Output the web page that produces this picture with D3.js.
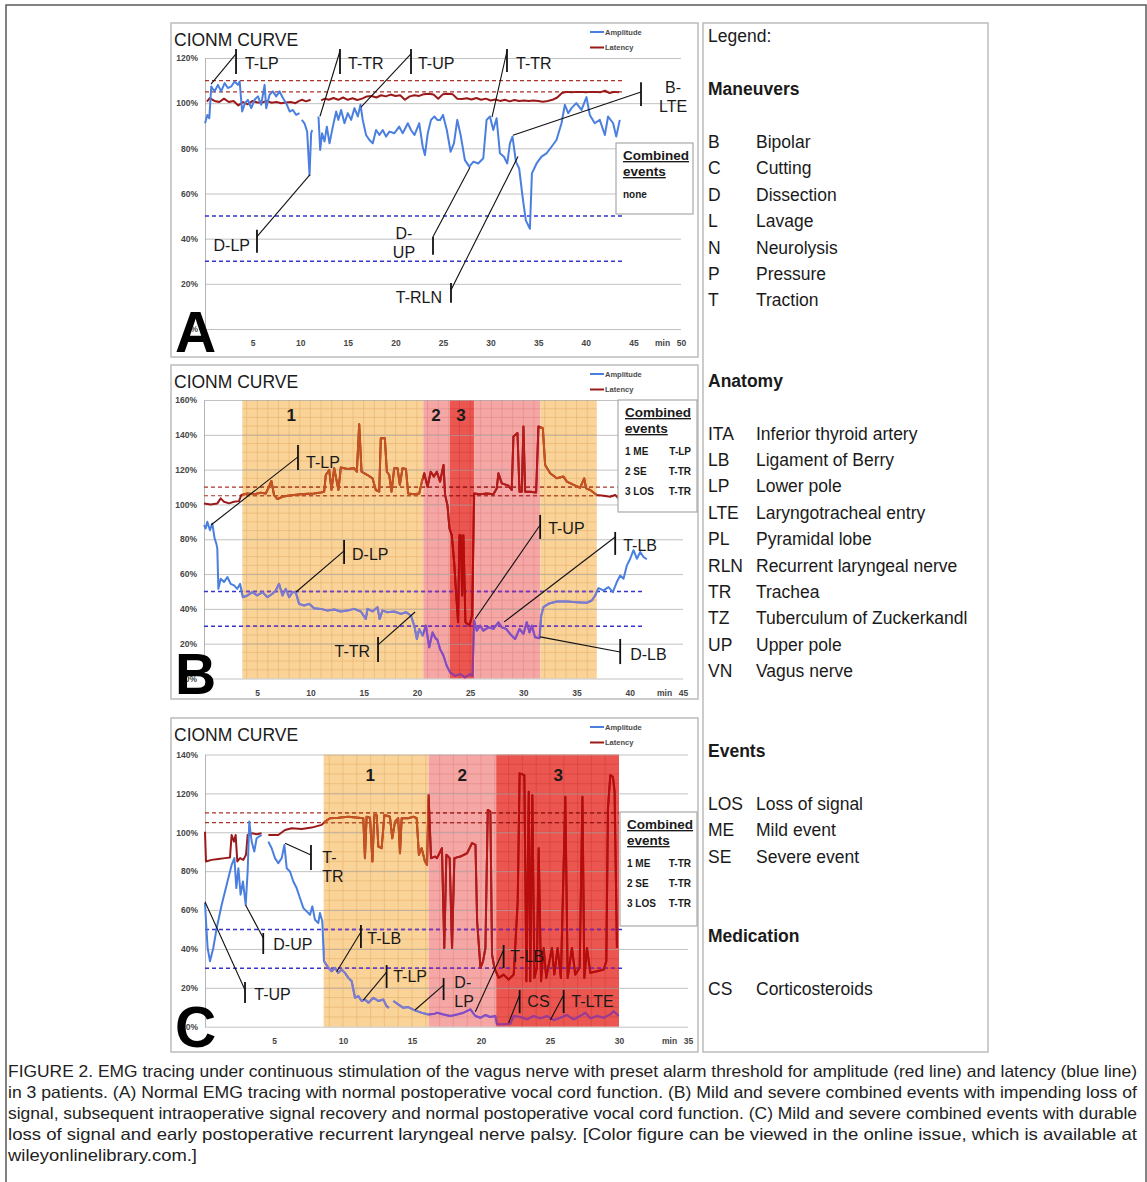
<!DOCTYPE html>
<html>
<head>
<meta charset="utf-8">
<script src="https://cdn.jsdelivr.net/npm/d3@7"></script>
<style>
  body { margin: 0; background: #fff; }
  text { font-family: "Liberation Sans", Arial, sans-serif; }
</style>
</head>
<body>
<script>
// ---- data: [minutes, percent], null = gap in the recording ----
const ampA = [[0,91.1],[0.25,94.8],[0.45,93.3],[0.66,107.4],[1.0,105.2],[1.36,108.1],[1.7,105.2],[2.06,108.9],[2.4,106.7],[2.76,107.4],[3.1,109.6],[3.46,108.1],[3.64,109.6],[3.9,96.3],[4.2,100],[4.5,101.5],[4.86,97.8],[5.2,101.5],[5.56,103],[5.9,99.3],[6.26,108.1],[6.43,97.8],[6.78,103.7],[7.13,105.2],[7.48,103],[7.83,105.2],[8.2,102.2],[8.53,100],[8.9,96.3],[9.23,97],[9.58,94.8],[9.93,95.6],[10.05,null],[10.17,92.6],[10.45,91.1],[10.73,87.4],[10.98,68.1],[11.15,86.7],[11.26,88.1],[11.6,null],[11.92,94.1],[12.1,79.3],[12.3,86.7],[12.55,83],[12.8,89.6],[13.08,82.2],[13.43,89.6],[13.78,96.3],[14.0,92.6],[14.3,97],[14.65,91.1],[15.0,95.6],[15.35,92.6],[15.7,97.8],[16.05,94.1],[16.33,99.3],[16.57,92.6],[16.92,85.9],[17.27,83.7],[17.62,82.2],[17.97,88.1],[18.32,85.9],[18.67,88.1],[19.02,85.2],[19.37,87.4],[19.9,86.7],[20.4,89.6],[20.77,86.7],[21.3,91.1],[21.64,88.1],[22.0,85.9],[22.5,91.1],[22.87,80.7],[23.1,77],[23.4,86.7],[23.74,92.6],[24.1,94.1],[24.4,92.6],[24.7,92.6],[25.0,94.8],[25.4,88.1],[25.8,78.5],[26.15,82.2],[26.5,92.6],[26.85,85.9],[27.3,74.8],[27.76,71.9],[28.2,74.1],[28.7,73.3],[29.23,75.6],[29.58,92.6],[29.93,94.1],[30.28,88.1],[30.63,93.3],[30.98,77.8],[31.4,76.3],[31.75,73.3],[32.03,82.2],[32.3,85.2],[32.66,74.1],[33.0,71.1],[33.36,58.5],[33.7,48.1],[34.13,44.4],[34.34,68.9],[34.83,73.3],[35.35,76.3],[35.87,77.8],[36.4,80.7],[36.92,83.7],[37.45,91.1],[37.8,99.3],[38.15,95.6],[38.5,97.8],[39.0,100],[39.55,97],[40.07,102.7],[40.42,94.8],[40.94,91.1],[41.47,92.6],[42.0,85.9],[42.34,94.1],[42.87,91.1],[43.2,85.2],[43.57,92.6]];
const latA = [[0.2,100.7],[0.5,102.2],[1.0,101],[1.5,100.5],[2,102],[2.5,100.5],[3,101],[3.5,99],[4,100.5],[4.5,99.5],[5,101],[5.5,100.3],[6,100.3],[6.5,101],[7,100.2],[7.5,100.5],[8,100],[8.5,100.3],[9,100.5],[9.5,100],[9.9,101],[10.2,101.5],[10.6,100.8],[11.1,101.5],[11.6,null],[12.2,101.2],[12.6,102],[13,101.5],[13.5,102.3],[14,101.5],[14.5,102.5],[15,101.5],[15.5,102.2],[16,101.4],[16.5,102],[17,103],[17.5,103.2],[18,102.5],[18.5,103.5],[19,103],[19.5,103.8],[20,103.2],[20.5,103.5],[21,101.5],[21.5,103],[22,103.5],[22.5,103.2],[23,104],[23.5,104.2],[24,103.8],[24.5,102],[25,104],[25.5,104.2],[26,104],[26.5,102],[27,101.8],[27.5,102.2],[28,101.6],[28.5,102.3],[29,101.5],[29.5,102],[30,101.2],[30.5,101.6],[31,101],[31.5,101.5],[32,100.8],[32.5,101.4],[33,101],[33.5,101.2],[34,101],[34.5,101.2],[35,101],[35.5,100.6],[36,101],[36.5,101.5],[37,102.5],[37.5,104.5],[38,105],[38.5,104.8],[39,105],[39.5,105],[40,104.8],[40.5,105],[41,105],[41.5,104.8],[42,105.5],[42.5,104.5],[43,105],[43.5,104.8]];

const ampB = [[0,88.1],[0.16,86.2],[0.31,90],[0.56,85.2],[0.78,89],[1.0,80.4],[1.16,77.5],[1.25,74.6],[1.35,51.5],[1.57,57.3],[1.88,55.4],[2.2,58.3],[2.5,54.4],[2.82,53.5],[3.13,51.5],[3.39,54.4],[3.64,46.7],[4.08,47.7],[4.55,49.6],[5.0,47.7],[5.5,49.6],[5.96,46.7],[6.43,48.7],[6.74,50.6],[7.05,54.4],[7.37,47.7],[7.68,51.5],[8.0,46.7],[8.3,49.6],[8.62,49.6],[8.93,42.9],[9.4,41.9],[9.87,42.9],[10.34,40.4],[10.97,40],[11.6,39],[12.23,39.6],[12.85,38.5],[13.48,39],[14.1,40],[14.73,38.5],[15.2,34.2],[15.36,40],[15.83,38.5],[16.3,41],[16.5,34.2],[16.77,39],[17.24,38.1],[17.87,38.5],[18.5,37.1],[18.97,38.1],[19.44,36.2],[19.75,30.4],[20.0,22.7],[20.22,28.5],[20.53,24.6],[20.85,30.4],[21.16,17.9],[21.47,26.5],[21.79,22.7],[21.9,22.7],[22.18,16.9],[22.5,13.1],[22.8,7.3],[23.12,3.5],[23.59,1.5],[24.06,2.5],[24.53,0.6],[25.0,2.5],[25.22,1.5],[25.38,33.3],[25.63,27.5],[25.94,30.4],[26.25,27.5],[26.72,29.4],[27.19,28.5],[27.66,32.3],[27.98,29.4],[28.38,28.5],[28.76,25.6],[29.23,22.7],[29.64,28.5],[30.01,25.6],[30.32,32.3],[30.58,26.5],[30.8,30.4],[31.1,23.7],[31.52,23.1],[31.68,36.2],[31.89,41],[32.36,42.9],[33.14,44.2],[34.09,44.2],[35.02,43.8],[35.96,43.5],[36.43,44.8],[36.75,47.7],[37.06,51.9],[37.53,50.6],[38.0,52.5],[38.41,49.6],[38.78,55.4],[39.1,59.2],[39.41,57.3],[39.73,65],[40.04,68.8],[40.35,73.7],[40.67,68.8],[40.98,72.7],[41.29,69.8],[41.6,68.5]];
const latB = [[0,100.6],[0.63,100],[1.25,100.6],[1.57,103.5],[1.88,101.5],[2.35,100.6],[2.82,101.5],[3.29,101.9],[3.5,105.4],[4.08,106.3],[4.7,105.8],[5.33,106.7],[5.8,106.3],[6.11,110.2],[6.33,113.5],[6.58,105.4],[6.9,103.1],[7.37,104.4],[7.84,105],[8.46,105.4],[9.09,105.8],[9.72,106.2],[10.34,106.3],[10.97,106.9],[11.29,107.3],[11.44,116.9],[11.76,119.8],[11.98,108.3],[12.23,120.8],[12.63,108.3],[12.85,121.2],[13.48,120.4],[14.1,120.8],[14.36,118.8],[14.58,146],[14.8,118.8],[15.36,116.9],[15.83,115],[16.14,108.3],[16.46,107.3],[16.61,138],[16.99,138],[17.18,118.8],[17.4,116.9],[17.62,107.3],[17.87,120.8],[18.18,120.8],[18.4,111.2],[18.65,120.8],[18.97,120.4],[19.18,106.3],[19.75,105.8],[20.22,106.3],[20.47,113.1],[20.69,117.9],[21.0,110.2],[21.3,118.8],[21.6,116],[21.87,118.8],[22.18,113.1],[22.5,122.7],[22.65,105.4],[22.87,99.6],[23.06,86.2],[23.28,82.3],[23.5,66.9],[23.68,49.6],[23.87,32.3],[24.0,82.3],[24.12,82.3],[24.25,47.7],[24.37,82.3],[24.56,32.3],[24.94,30.4],[25.19,36.2],[25.38,106.3],[25.94,105.8],[26.56,106.3],[27.19,105.8],[27.5,109.2],[27.66,117.9],[27.98,112.1],[28.6,110.8],[28.91,108.3],[29.07,139],[29.45,141],[29.64,107.3],[29.85,107.3],[30.01,144.8],[30.17,107.3],[30.64,107.3],[31.2,106.9],[31.42,144.8],[31.83,143.8],[32.05,122.7],[32.52,117.9],[33.14,115],[33.77,116],[34.09,113.1],[34.72,111.2],[35.34,109.6],[35.72,115],[35.9,109.2],[36.28,108.3],[36.9,105.4],[37.53,105],[38.16,104.4],[38.63,105.4],[38.94,103.5]];

const ampC = [[0,63.6],[0.1,50.8],[0.19,40.5],[0.36,33.7],[0.6,40.5],[0.85,50.8],[1.21,62.7],[1.57,73],[1.93,83.2],[2.13,86.7],[2.27,71.3],[2.42,81.5],[2.58,67.9],[2.75,74.7],[2.95,62.7],[3.09,79.8],[3.21,105.5],[3.38,95.2],[3.57,90.1],[3.74,96.9],[3.91,97.8],[4.1,98.6],[4.3,null],[4.59,95.2],[4.83,91.8],[5.07,86.7],[5.31,84.1],[5.56,86.7],[5.75,93.5],[5.92,81.5],[6.16,79.8],[6.4,74.7],[6.64,71.3],[6.88,66.2],[7.13,61],[7.37,59.3],[7.61,57.6],[7.78,61.9],[7.97,55],[8.21,53.3],[8.33,58.5],[8.5,54.2],[8.62,33.7],[8.94,30.3],[9.18,28.5],[9.42,30.3],[9.66,27.7],[9.9,29.4],[10.14,27.7],[10.39,25.1],[10.63,23.4],[10.87,14.9],[11.11,15.7],[11.35,13.2],[11.59,14],[11.84,12.3],[12.2,14.9],[12.56,13.2],[12.92,14],[13.16,10.6],[13.33,9.7],[13.5,null],[13.65,13.2],[14.0,11.5],[14.37,9.7],[14.73,10.1],[15.2,8.4],[15.7,7.2],[16.18,6.3],[16.67,6.7],[16.81,7.2],[17.29,6.3],[17.78,5.5],[18.26,6.3],[18.74,7.2],[19.23,8.9],[19.59,5.5],[19.95,4.6],[20.31,6],[20.67,5],[21.04,5.5],[21.16,1.2],[21.64,1.2],[22.13,1.5],[22.37,5.5],[22.85,5],[23.33,3.8],[23.82,5.5],[24.3,4.3],[24.79,5.5],[25.27,3.4],[25.75,4.6],[26.23,6],[26.71,3.8],[27.2,5.5],[27.56,7.2],[27.92,4.3],[28.41,5.5],[28.89,4.6],[29.37,6.3],[29.61,8],[29.98,5.5]];
const latC = [[0,100.3],[0.07,85],[0.48,85.8],[0.97,86.3],[1.45,86.7],[1.81,87],[1.93,98.6],[2.1,95.2],[2.22,98.6],[2.34,85],[2.54,86.7],[2.78,85.8],[2.97,88.4],[3.09,98.6],[3.38,99.5],[3.74,99],[4.1,99.5],[4.3,null],[4.59,98.6],[5.31,98.6],[5.8,101.2],[6.28,102.1],[7.0,101.7],[7.73,102.4],[8.45,103.8],[8.7,105.5],[9.06,107.2],[9.66,107.5],[10.39,108],[11.11,107.5],[11.47,107.2],[11.59,86.7],[11.71,108],[11.96,107.5],[12.13,85],[12.27,108.9],[12.44,108.9],[12.56,92.6],[12.8,91.8],[13.0,108.9],[13.4,108],[13.57,96.9],[13.77,105.5],[14.0,107.2],[14.13,89.2],[14.25,107.2],[14.73,107.2],[15.1,108],[15.34,107.2],[15.5,88.4],[15.7,91.8],[15.94,85],[16.09,83.2],[16.2,119.1],[16.38,86.7],[16.67,87.5],[16.81,86.7],[17.17,91.8],[17.34,40.5],[17.49,88.4],[17.73,86.7],[17.9,40.5],[18.07,86.7],[18.5,87.5],[18.99,89.2],[19.35,94.4],[19.6,93.5],[19.72,54.2],[19.96,30.3],[20.15,33.7],[20.32,40.5],[20.49,111.5],[20.68,110.6],[20.8,37.1],[20.97,30.3],[21.28,25.1],[21.64,26.8],[22.0,24.3],[22.37,26.8],[22.66,64.4],[22.8,130.3],[23.14,129.4],[23.29,23.4],[23.46,120.9],[23.57,23.4],[23.72,119.1],[23.87,25.1],[24.05,30.3],[24.18,91.8],[24.35,23.4],[24.54,40.5],[24.73,25.1],[25.14,40.5],[25.31,26.8],[25.55,40.5],[25.79,25.1],[26.11,118.3],[26.28,25.1],[26.59,40.5],[26.83,26.8],[27.15,30.3],[27.35,118.3],[27.49,25.1],[27.68,40.5],[27.92,27.7],[28.41,28.5],[28.89,29.4],[29.08,33.7],[29.2,112.3],[29.37,129.4],[29.56,128.5],[29.68,120.9],[29.85,40.5]];

// alarm thresholds (%): latency upper, amplitude lower
const latThresholds = [110, 105];
const ampThresholds = [50, 30];

// shaded event zones [start min, end min, kind] and their labels [label, min, %]
const zonesB = [[3.6, 20.6, "o"], [20.6, 23.1, "p"], [23.1, 25.4, "r"], [25.4, 31.6, "p"], [31.6, 36.9, "o"]];
const zoneLabelsB = [["1", 8.2, 151.4], ["2", 21.8, 151.4], ["3", 24.15, 151.4]];
const zonesC = [[8.6, 16.2, "o"], [16.2, 21.1, "p"], [21.1, 30.0, "r"]];
const zoneLabelsC = [["1", 11.98, 129.4], ["2", 18.64, 129.4], ["3", 25.6, 129.4]];

// annotations: text ("|" = new line), tick x, tick span, curve point, join y, label x/y, anchor
const notesA = [
  { t: "T-LP", tx: 3.26, t0: 124, t1: 112.9, px: 0.63, py: 108.4, jy: 121.8, lx: 4.2, ly: 117.8, a: "start" },
  { t: "T-TR", tx: 14.18, t0: 124, t1: 112.9, px: 12.08, py: 94.2, jy: 123.1, lx: 15.02, ly: 117.8, a: "start" },
  { t: "T-UP", tx: 21.64, t0: 124, t1: 112.9, px: 16.39, py: 98.2, jy: 121.8, lx: 22.37, ly: 117.8, a: "start" },
  { t: "T-TR", tx: 31.72, t0: 124, t1: 113.8, px: 30.15, py: 93.8, jy: 123.1, lx: 32.67, ly: 117.8, a: "start" },
  { t: "B-|LTE", tx: 45.8, t0: 109.3, t1: 98.7, px: 32.35, py: 85.8, jy: 104.9, lx: 49.16, ly: 107.1, a: "middle" },
  { t: "D-LP", tx: 5.46, t0: 44, t1: 33.8, px: 11.03, py: 68.4, jy: 40.9, lx: 4.73, ly: 36.9, a: "end" },
  { t: "D-|UP", tx: 23.95, t0: 40.9, t1: 32.9, px: 27.84, py: 71.6, jy: 40.9, lx: 20.9, ly: 42.2, a: "middle" },
  { t: "T-RLN", tx: 25.84, t0: 20.4, t1: 11.6, px: 32.88, py: 76.4, jy: 17.3, lx: 24.9, ly: 14.2, a: "end" }
];
const notesB = [
  { t: "T-LP", tx: 8.83, t0: 134.2, t1: 119.8, px: 0.66, py: 88.2, jy: 127.3, lx: 9.59, ly: 124.4, a: "start" },
  { t: "D-LP", tx: 13.16, t0: 79.6, t1: 65.8, px: 8.65, py: 49.7, jy: 73.3, lx: 13.91, ly: 71.6, a: "start" },
  { t: "T-TR", tx: 16.35, t0: 23.9, t1: 9.5, px: 19.83, py: 38.2, jy: 19.3, lx: 15.6, ly: 15.8, a: "end" },
  { t: "T-UP", tx: 31.58, t0: 94, t1: 80.2, px: 25.47, py: 34.2, jy: 88.2, lx: 32.33, ly: 86.5, a: "start" },
  { t: "T-LB", tx: 38.63, t0: 84.2, t1: 71, px: 28.2, py: 32.5, jy: 81.3, lx: 39.38, ly: 76.7, a: "start" },
  { t: "D-LB", tx: 39.1, t0: 22.7, t1: 8.3, px: 31.58, py: 23.9, jy: 15.2, lx: 40.04, ly: 14.1, a: "start" }
];
const notesC = [
  { t: "T-|TR", tx: 7.68, t0: 93.4, t1: 80.6, px: 5.8, py: 94.3, jy: 88.3, lx: 8.5, ly: 87.3, a: "start" },
  { t: "D-UP", tx: 4.22, t0: 48.2, t1: 37.4, px: 2.94, py: 62.6, jy: 45.6, lx: 4.95, ly: 42.5, a: "start" },
  { t: "T-UP", tx: 2.9, t0: 23, t1: 12.2, px: 0, py: 64.3, jy: 18.9, lx: 3.57, ly: 16.8, a: "start" },
  { t: "T-LB", tx: 11.3, t0: 52.3, t1: 40.5, px: 9.54, py: 28.3, jy: 48.7, lx: 11.76, ly: 45.6, a: "start" },
  { t: "T-LP", tx: 13.16, t0: 31.7, t1: 19.9, px: 11.47, py: 13.7, jy: 28.1, lx: 13.64, ly: 26.1, a: "start" },
  { t: "D-|LP", tx: 17.29, t0: 25, t1: 13.7, px: 15.22, py: 8.6, jy: 21.4, lx: 18.07, ly: 23, a: "start" },
  { t: "T-LB", tx: 21.64, t0: 42, t1: 30.2, px: 19.59, py: 7.7, jy: 39.4, lx: 22.12, ly: 36.3, a: "start" },
  { t: "CS", tx: 22.8, t0: 18.9, t1: 7, px: 22.0, py: 1.9, jy: 16.3, lx: 23.36, ly: 13.2, a: "start" },
  { t: "T-LTE", tx: 25.99, t0: 18.9, t1: 7, px: 25.02, py: 3.4, jy: 16.3, lx: 26.54, ly: 13.2, a: "start" }
];

// combined events tables
const eventsA = [["none", ""]];
const eventsB = [["1 ME", "T-LP"], ["2 SE", "T-TR"], ["3 LOS", "T-TR"]];
const eventsC = [["1 ME", "T-TR"], ["2 SE", "T-TR"], ["3 LOS", "T-TR"]];

// right-hand legend
const maneuvers = [["B", "Bipolar"], ["C", "Cutting"], ["D", "Dissection"], ["L", "Lavage"], ["N", "Neurolysis"], ["P", "Pressure"], ["T", "Traction"]];
const anatomy = [["ITA", "Inferior thyroid artery"], ["LB", "Ligament of Berry"], ["LP", "Lower pole"], ["LTE", "Laryngotracheal entry"], ["PL", "Pyramidal lobe"], ["RLN", "Recurrent laryngeal nerve"], ["TR", "Trachea"], ["TZ", "Tuberculum of Zuckerkandl"], ["UP", "Upper pole"], ["VN", "Vagus nerve"]];
const eventTerms = [["LOS", "Loss of signal"], ["ME", "Mild event"], ["SE", "Severe event"]];
const medication = [["CS", "Corticosteroids"]];

const captionLines = [
  "FIGURE  2.  EMG tracing under continuous stimulation of the vagus nerve with preset alarm threshold for amplitude (red line) and latency (blue line)",
  "in 3 patients. (A) Normal EMG tracing with normal postoperative vocal cord function. (B) Mild and severe combined events with impending loss of",
  "signal, subsequent intraoperative signal recovery and normal postoperative vocal cord function. (C) Mild and severe combined events with durable",
  "loss of signal and early postoperative recurrent laryngeal nerve palsy. [Color figure can be viewed in the online issue, which is available at",
  "wileyonlinelibrary.com.]"
];

// ---- drawing ----
const W = 1147, H = 1182;
const baseCols = { amp: "#4a7fe0", lat: "#9a1a1a", ampDash: "#3535cc", latDash: "#a8352b" };
// zone fill + how the curves look inside each zone
const zoneStyle = {
  o: { fill: "#fad398", grid: "#d9984a", amp: "#8179cc", lat: "#c4541f", ampDash: "#6f44c2", latDash: "#b0562e" },
  p: { fill: "#f4a7a5", grid: "#d66f6c", amp: "#8b49c2", lat: "#b51a1a", ampDash: "#7c32b4", latDash: "#a82c2c" },
  r: { fill: "#ec5650", grid: "#c22c28", amp: "#a8338a", lat: "#b80c0c", ampDash: "#8c2290", latDash: "#9a1616" }
};

const svg = d3.select("body").append("svg").attr("width", W).attr("height", H);
const defs = svg.append("defs");
svg.append("rect").attr("width", W).attr("height", H).attr("fill", "#fff");
svg.append("rect").attr("x", 6).attr("y", 5).attr("width", 1140).attr("height", 1200)
  .attr("fill", "none").attr("stroke", "#5a5a5a").attr("stroke-width", 1.5);

function drawPanel(p) {
  const g = svg.append("g");
  const [bx0, by0, bx1, by1] = p.box;
  g.append("rect").attr("x", bx0).attr("y", by0).attr("width", bx1 - bx0).attr("height", by1 - by0)
    .attr("fill", "#fff").attr("stroke", "#bcbcbc").attr("stroke-width", 1.5);

  const x = d3.scaleLinear().domain([0, p.xMax]).range(p.xr);
  const y = d3.scaleLinear().domain([0, p.yMax]).range(p.yr);

  // event zones (fill + fine grid)
  p.zones.forEach(z => {
    const st = zoneStyle[z[2]];
    const zx0 = x(z[0]), zx1 = x(z[1]), zy0 = y(p.yMax), zy1 = y(0);
    g.append("rect").attr("x", zx0).attr("y", zy0).attr("width", zx1 - zx0).attr("height", zy1 - zy0)
      .attr("fill", st.fill);
    const zg = g.append("g").attr("stroke", st.grid).attr("stroke-width", 0.6).attr("opacity", 0.55);
    d3.range(Math.ceil(z[0]), z[1], 1).forEach(m => zg.append("line")
      .attr("x1", x(m)).attr("x2", x(m)).attr("y1", zy0).attr("y2", zy1));
    d3.range(5, p.yMax, 5).forEach(v => zg.append("line")
      .attr("x1", zx0).attr("x2", zx1).attr("y1", y(v)).attr("y2", y(v)));
  });

  // gridlines + y labels
  const ya = g.append("g").attr("transform", `translate(${p.xr[0]},0)`)
    .call(d3.axisLeft(y).tickValues(d3.range(0, p.yMax + 1, 20)).tickFormat(d => d + "%")
      .tickSizeInner(-(p.xr[1] - p.xr[0])).tickSizeOuter(0).tickPadding(7));
  ya.select(".domain").attr("stroke", "#b5b5b5");
  ya.selectAll(".tick line").attr("stroke", "#a8a8a8").attr("stroke-opacity", 0.7);
  ya.selectAll(".tick text").attr("font-family", "Liberation Sans, Arial, sans-serif")
    .attr("font-size", 8.5).attr("font-weight", "bold").attr("fill", "#454545");

  const xa = g.append("g").attr("transform", `translate(0,${p.yr[0]})`)
    .call(d3.axisBottom(x).tickValues(d3.range(5, p.xMax + 1, 5)).tickSize(0).tickPadding(11));
  xa.select(".domain").remove();
  xa.selectAll(".tick text").attr("font-family", "Liberation Sans, Arial, sans-serif")
    .attr("font-size", 8.5).attr("font-weight", "bold").attr("fill", "#454545");
  g.append("text").attr("x", x(p.xMax) - 26).attr("y", p.yr[0] + 17)
    .attr("font-size", 8.5).attr("font-weight", "bold").attr("fill", "#454545").text("min");

  // thresholds and curves; redrawn in zone tints inside each zone
  const line = d3.line().defined(d => d[1] != null).x(d => x(d[0])).y(d => y(d[1]));
  function layer(c, col) {
    latThresholds.forEach(v => c.append("line")
      .attr("x1", x(0)).attr("x2", x(p.latEnd)).attr("y1", y(v)).attr("y2", y(v))
      .attr("stroke", col.latDash).attr("stroke-width", 1.2).attr("stroke-dasharray", "4,3"));
    ampThresholds.forEach(v => c.append("line")
      .attr("x1", x(0)).attr("x2", x(p.ampEnd)).attr("y1", y(v)).attr("y2", y(v))
      .attr("stroke", col.ampDash).attr("stroke-width", 1.5).attr("stroke-dasharray", "4,3"));
    c.append("path").datum(p.lat).attr("d", line).attr("fill", "none")
      .attr("stroke", col.lat).attr("stroke-width", 2).attr("stroke-linejoin", "round");
    c.append("path").datum(p.amp).attr("d", line).attr("fill", "none")
      .attr("stroke", col.amp).attr("stroke-width", 2).attr("stroke-linejoin", "round");
  }
  layer(g.append("g"), baseCols);
  p.zones.forEach((z, i) => {
    const id = `clip-${p.letter}-${i}`;
    defs.append("clipPath").attr("id", id).append("rect")
      .attr("x", x(z[0])).attr("y", y(p.yMax) - 5).attr("width", x(z[1]) - x(z[0])).attr("height", y(0) - y(p.yMax) + 10);
    layer(g.append("g").attr("clip-path", `url(#${id})`), zoneStyle[z[2]]);
  });

  p.zoneLabels.forEach(l => g.append("text").attr("x", x(l[1])).attr("y", y(l[2])).attr("dy", "0.36em")
    .attr("text-anchor", "middle").attr("font-size", 17).attr("font-weight", "bold").attr("fill", "#1a1a1a").text(l[0]));

  // annotations
  p.notes.forEach(n => {
    g.append("line").attr("x1", x(n.px)).attr("y1", y(n.py)).attr("x2", x(n.tx)).attr("y2", y(n.jy))
      .attr("stroke", "#111").attr("stroke-width", 1.1);
    g.append("line").attr("x1", x(n.tx)).attr("x2", x(n.tx)).attr("y1", y(n.t0)).attr("y2", y(n.t1))
      .attr("stroke", "#111").attr("stroke-width", 1.8);
    n.t.split("|").forEach((s, i) => g.append("text").attr("x", x(n.lx)).attr("y", y(n.ly) + i * 19)
      .attr("dy", "0.36em").attr("text-anchor", n.a).attr("font-size", 16).attr("fill", "#1a1a1a").text(s));
  });

  // combined events box
  const [ex0, ey0, ex1, ey1] = p.evBox;
  g.append("rect").attr("x", ex0).attr("y", ey0).attr("width", ex1 - ex0).attr("height", ey1 - ey0)
    .attr("fill", "#fff").attr("stroke", "#a9a9a9").attr("stroke-width", 1.2);
  ["Combined", "events"].forEach((s, i) => g.append("text").attr("x", ex0 + 7).attr("y", ey0 + 17 + i * 16)
    .attr("font-size", 13.5).attr("font-weight", "bold").attr("fill", "#1a1a1a")
    .attr("text-decoration", "underline").text(s));
  p.events.forEach((r, i) => {
    const yy = ey0 + 55 + i * 20;
    g.append("text").attr("x", ex0 + 7).attr("y", yy).attr("font-size", 10).attr("font-weight", "bold")
      .attr("fill", "#1a1a1a").text(r[0]);
    g.append("text").attr("x", ex1 - 6).attr("y", yy).attr("text-anchor", "end").attr("font-size", 10)
      .attr("font-weight", "bold").attr("fill", "#1a1a1a").text(r[1]);
  });

  // series legend
  const lg = g.append("g").attr("transform", `translate(${bx1 - 108},${by0 + 9})`);
  [["Amplitude", baseCols.amp], ["Latency", baseCols.lat]].forEach((d, i) => {
    lg.append("line").attr("x1", 0).attr("x2", 14).attr("y1", i * 15.5).attr("y2", i * 15.5)
      .attr("stroke", d[1]).attr("stroke-width", 2);
    lg.append("text").attr("x", 15).attr("y", i * 15.5 + 2.6).attr("font-size", 7.5)
      .attr("font-weight", "bold").attr("fill", "#4a4a4a").text(d[0]);
  });

  g.append("text").attr("x", bx0 + 3).attr("y", by0 + 23).attr("font-size", 17.5).attr("fill", "#1a1a1a").text("CIONM CURVE");
  g.append("text").attr("x", bx0 + 4).attr("y", by1 - 5).attr("font-size", 57).attr("font-weight", "bold")
    .attr("fill", "#000").text(p.letter);
}

drawPanel({ letter: "A", box: [171, 23, 698, 357], xr: [205, 681], yr: [329, 58], xMax: 50, yMax: 120,
  amp: ampA, lat: latA, latEnd: 43.9, ampEnd: 43.9, zones: [], zoneLabels: [], notes: notesA,
  evBox: [616, 143, 693, 214], events: eventsA });
drawPanel({ letter: "B", box: [171, 365, 698, 699], xr: [204, 683], yr: [678.5, 400], xMax: 45, yMax: 160,
  amp: ampB, lat: latB, latEnd: 38.9, ampEnd: 41.4, zones: zonesB, zoneLabels: zoneLabelsB, notes: notesB,
  evBox: [618, 400, 697, 512], events: eventsB });
drawPanel({ letter: "C", box: [171, 718, 698, 1052], xr: [205, 688], yr: [1026.7, 754.5], xMax: 35, yMax: 140,
  amp: ampC, lat: latC, latEnd: 30, ampEnd: 30.3, zones: zonesC, zoneLabels: zoneLabelsC, notes: notesC,
  evBox: [620, 812, 697, 926], events: eventsC });

// right legend box
const lb = svg.append("g");
lb.append("rect").attr("x", 703).attr("y", 23).attr("width", 285).attr("height", 1029)
  .attr("fill", "#fff").attr("stroke", "#bcbcbc").attr("stroke-width", 1.5);
lb.append("text").attr("x", 708).attr("y", 42).attr("font-size", 17.5).attr("fill", "#1a1a1a").text("Legend:");
function section(title, rows, headY) {
  lb.append("text").attr("x", 708).attr("y", headY).attr("font-size", 17.5).attr("font-weight", "bold")
    .attr("fill", "#1a1a1a").text(title);
  rows.forEach((r, i) => {
    const yy = headY + 53 + i * 26.4;
    lb.append("text").attr("x", 708).attr("y", yy).attr("font-size", 17.5).attr("fill", "#1a1a1a").text(r[0]);
    lb.append("text").attr("x", 756).attr("y", yy).attr("font-size", 17.5).attr("fill", "#1a1a1a").text(r[1]);
  });
}
section("Maneuvers", maneuvers, 95);
section("Anatomy", anatomy, 386.5);
section("Events", eventTerms, 757);
section("Medication", medication, 942);

// caption (justified)
const cap = svg.append("g");
captionLines.forEach((s, i) => {
  const t = cap.append("text").attr("x", 8).attr("y", 1077 + i * 21)
    .attr("font-family", "'Liberation Sans Narrow', 'Arial Narrow', 'DejaVu Sans Condensed', sans-serif")
    .attr("font-size", 16.5).attr("fill", "#222").text(s);
  if (i < captionLines.length - 1) t.attr("textLength", 1129).attr("lengthAdjust", "spacingAndGlyphs");
  else t.attr("textLength", 189).attr("lengthAdjust", "spacingAndGlyphs");
});
</script>
</body>
</html>
